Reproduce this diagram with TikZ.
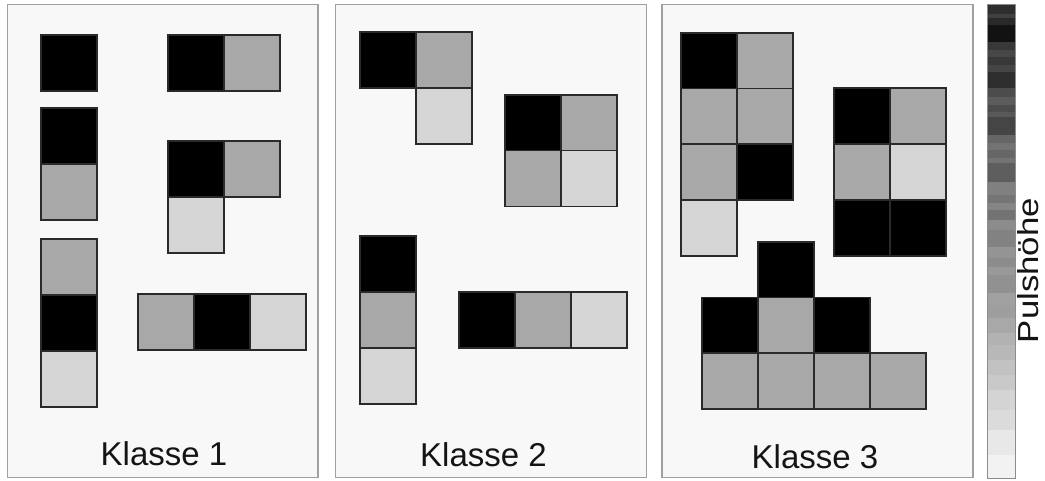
\documentclass[tikz,border=0pt]{standalone}
\usepackage{fontspec}
\usepackage{graphicx}
\setmainfont{Liberation Sans}
\definecolor{panelfill}{HTML}{F8F8F8}
\definecolor{panelline}{HTML}{A0A0A0}
\definecolor{midgray}{HTML}{A8A8A8}
\definecolor{lightgray}{HTML}{D5D5D5}
\definecolor{cellline}{HTML}{2A2A2A}
\tikzset{
  panel/.style={draw=panelline, line width=1.4pt, fill=panelfill},
  cellK/.style={draw=cellline, line width=1.3pt, fill=black},
  cellM/.style={draw=cellline, line width=1.3pt, fill=midgray},
  cellL/.style={draw=cellline, line width=1.3pt, fill=lightgray},
  klabel/.style={anchor=base, font=\fontsize{33}{36}\selectfont, text=black!92, inner sep=0pt},
}
\newcommand{\cellat}[3]{\path[#3] (#1,#2) rectangle ++(56,56);}
\begin{document}
\begin{tikzpicture}[x=1pt,y=-1pt]
\useasboundingbox (0,0) rectangle (1045,481);
\fill[white] (0,0) rectangle (1045,481);
% panels
\path[panel] (7.5,4.5) rectangle (318,477.5);
\path[panel] (335.5,4.5) rectangle (646.5,477.5);
\path[panel] (662,4.5) rectangle (973,477.5);
% Panel 1
\cellat{41}{35}{cellK}
\cellat{41}{108}{cellK}
\cellat{41}{164}{cellM}
\cellat{41}{239}{cellM}
\cellat{41}{295}{cellK}
\cellat{41}{351}{cellL}
\cellat{168}{35}{cellK}
\cellat{224}{35}{cellM}
\cellat{168}{141}{cellK}
\cellat{224}{141}{cellM}
\cellat{168}{197}{cellL}
\cellat{138}{294}{cellM}
\cellat{194}{294}{cellK}
\cellat{250}{294}{cellL}
% Panel 2
\cellat{360}{32}{cellK}
\cellat{416}{32}{cellM}
\cellat{416}{88}{cellL}
\cellat{505}{95}{cellK}
\cellat{561}{95}{cellM}
\cellat{505}{150.5}{cellM}
\cellat{561}{150.5}{cellL}
\cellat{360}{236}{cellK}
\cellat{360}{292}{cellM}
\cellat{360}{348}{cellL}
\cellat{459}{292}{cellK}
\cellat{515}{292}{cellM}
\cellat{571}{292}{cellL}
% Panel 3
\cellat{681}{33}{cellK}
\cellat{737}{33}{cellM}
\cellat{681}{88.5}{cellM}
\cellat{737}{88.5}{cellM}
\cellat{681}{144}{cellM}
\cellat{737}{144}{cellK}
\cellat{681}{200}{cellL}
\cellat{834}{88}{cellK}
\cellat{890}{88}{cellM}
\cellat{834}{144}{cellM}
\cellat{890}{144}{cellL}
\cellat{834}{200}{cellK}
\cellat{890}{200}{cellK}
\cellat{758}{242}{cellK}
\cellat{702}{297.5}{cellK}
\cellat{758}{297.5}{cellM}
\cellat{814}{297.5}{cellK}
\cellat{702}{353}{cellM}
\cellat{758}{353}{cellM}
\cellat{814}{353}{cellM}
\cellat{870}{353}{cellM}
% labels
\node[klabel] (k1) at (164,465) {Klasse 1};
\node[klabel] (k2) at (483.5,466) {Klasse 2};
\node[klabel] (k3) at (815,468) {Klasse 3};
% colour bar
\foreach \ya/\yb/\g in {5/14/18,14/18/25,18/25/16,25/42/7,42/50/22,50/57/28,57/65/22,65/72/27,72/88/18,88/97/30,97/105/36,105/112/30,112/117/35,117/135/27,135/143/40,143/150/45,150/158/40,158/163/45,163/182/37,182/195/50,195/203/46,203/210/52,210/220/45,220/230/55,230/247/51,247/258/58,258/267/55,267/275/60,275/293/57,293/305/63,305/318/62,318/333/66,333/345/70,345/360/72,360/375/76,375/390/79,390/410/83,410/430/86,430/455/91,455/478/95}
  {\fill[white!\g!black] (987,\ya) rectangle (1015,\yb);}
\draw[draw=black!45, line width=1pt] (987,5) rectangle (1015,478);
\node[anchor=base, rotate=90, inner sep=0pt, font=\fontsize{29}{32}\selectfont, text=black!92] (ph) at (1038.5,270.5) {\scalebox{1.2}[1]{Pulshöhe}};
\end{tikzpicture}
\end{document}
